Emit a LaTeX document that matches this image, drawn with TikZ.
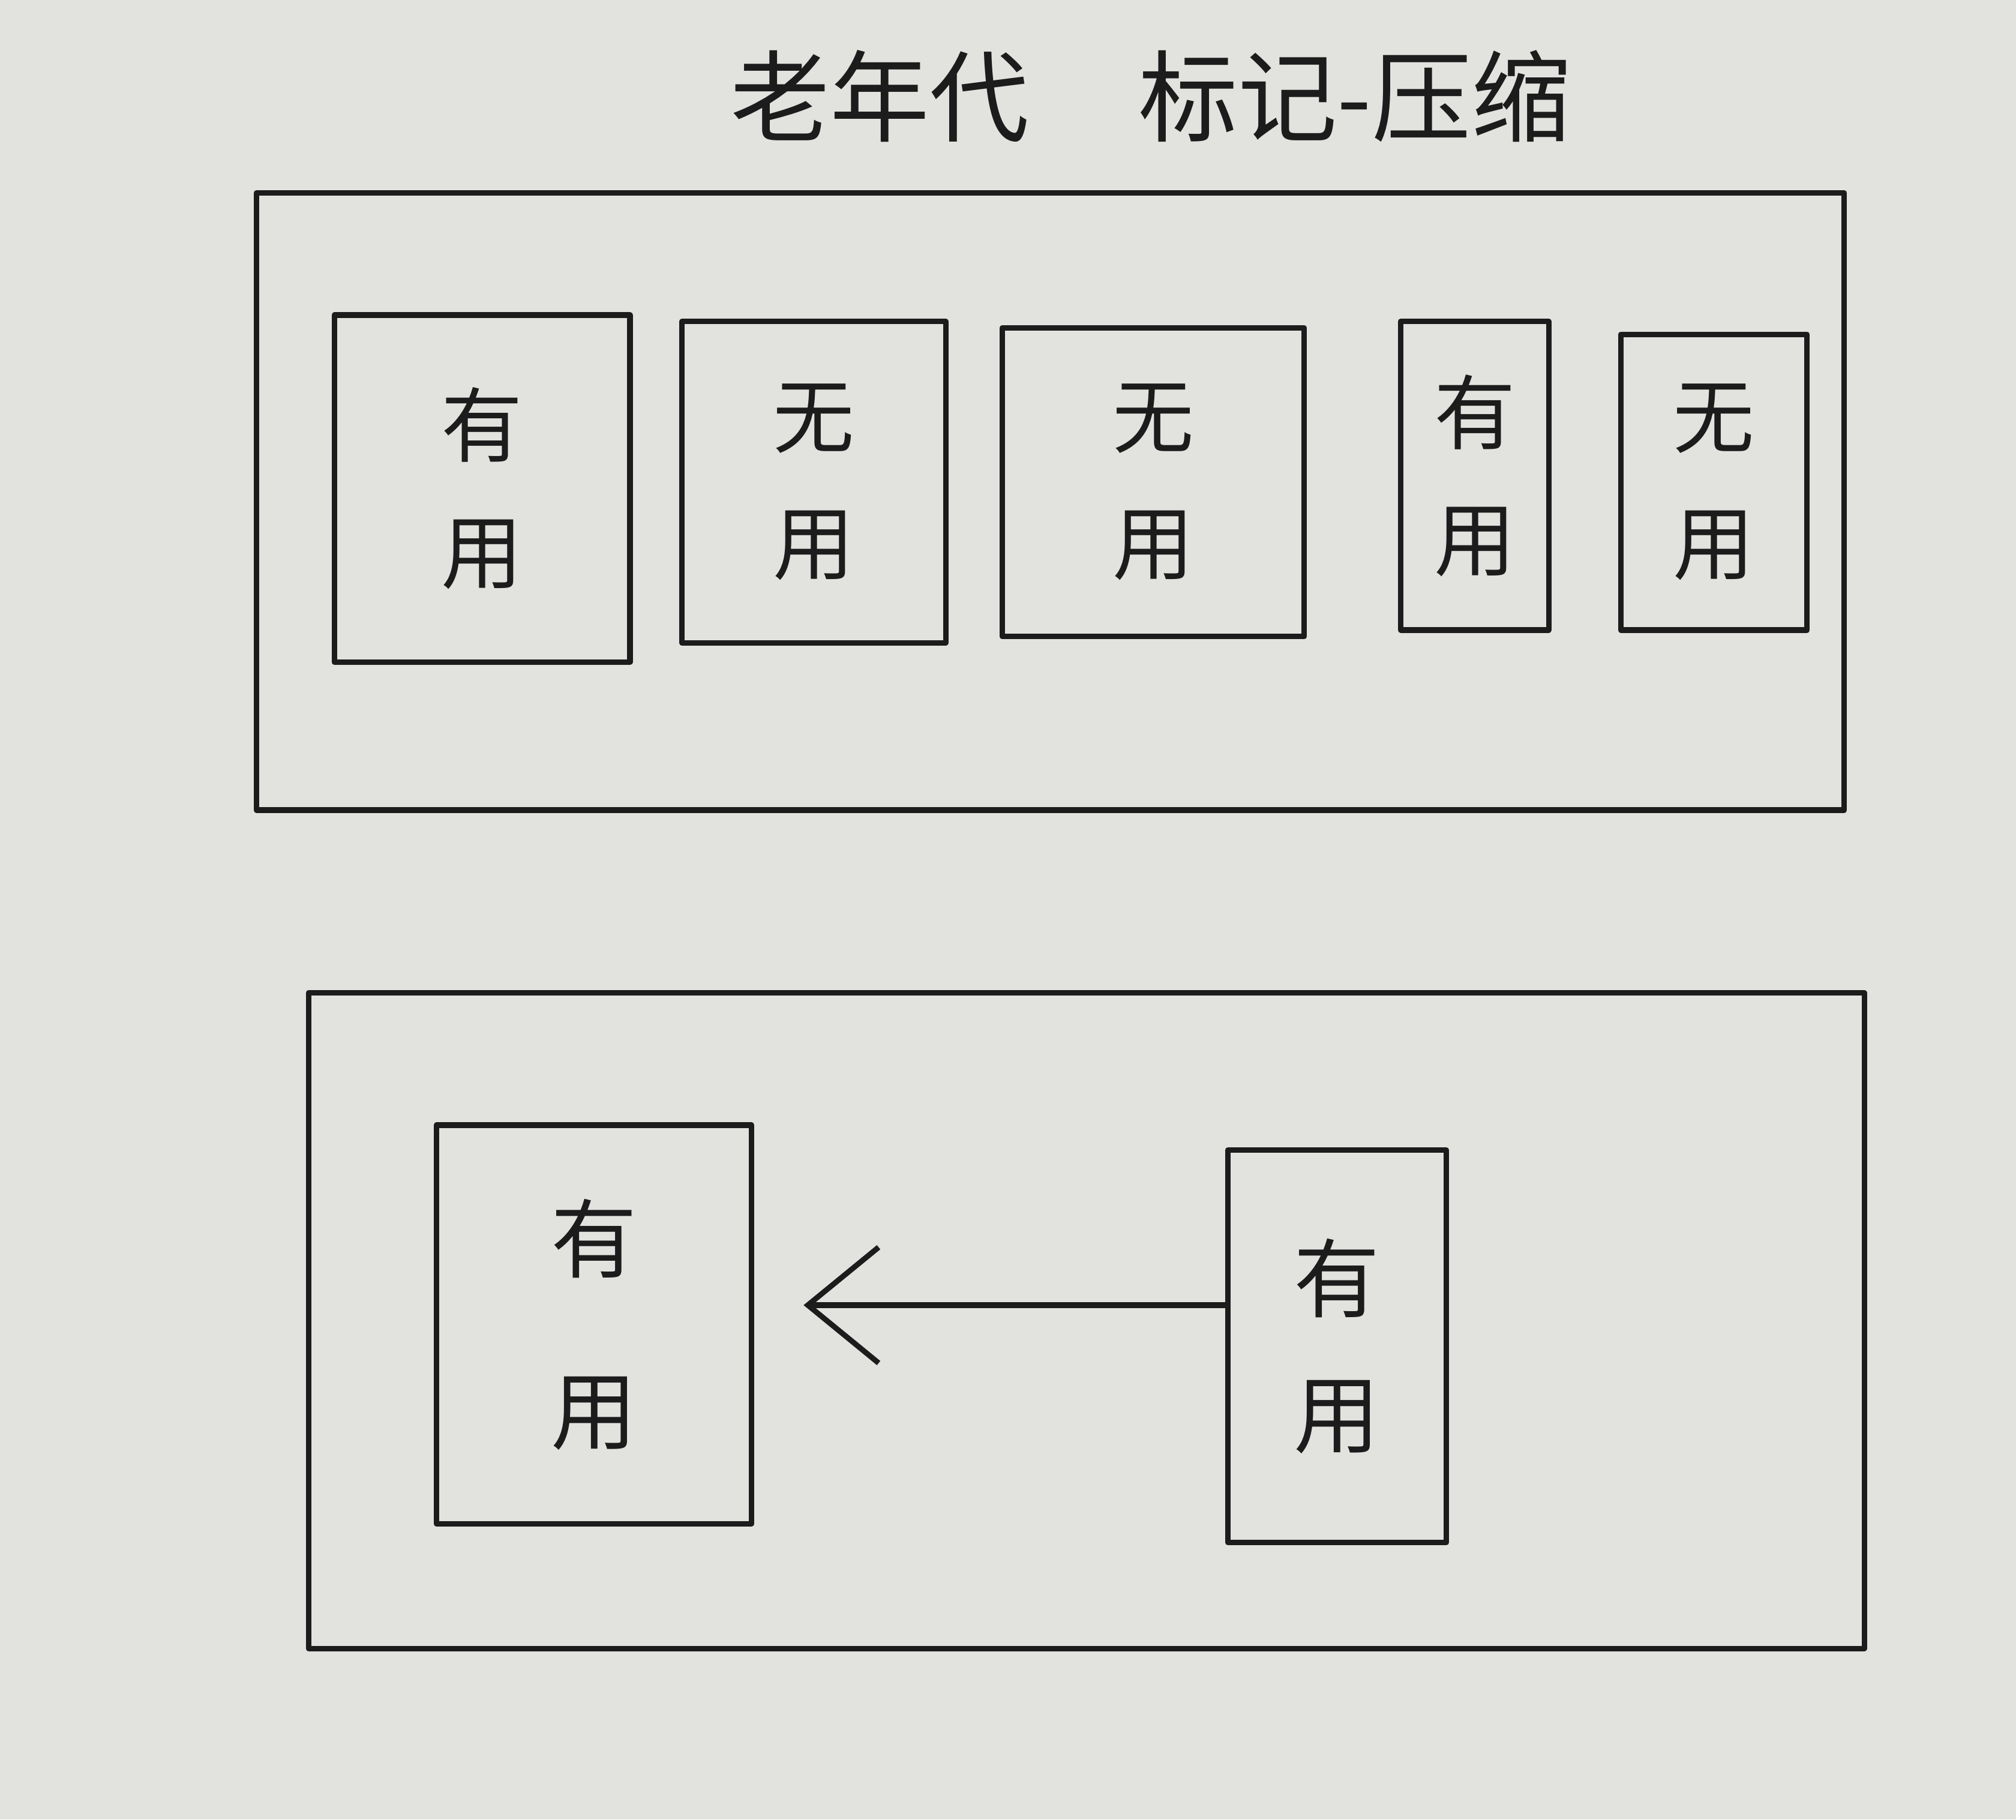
\documentclass[tikz,border=0pt]{standalone}
\usepackage{fontspec}
\newfontfamily\cjk{Noto Sans CJK SC}
\usetikzlibrary{arrows.meta}
\definecolor{paper}{RGB}{226,226,223}
\definecolor{pen}{RGB}{28,28,28}
\tikzset{
  pen/.style={draw=pen, line width=1.2pt, line cap=round, line join=round},
  obj/.style={pen, rectangle, inner sep=0pt, align=center, text=pen,
    font=\cjk\fontsize{18}{28}\selectfont},
}
\begin{document}
\begin{tikzpicture}[x=0.01cm,y=-0.01cm]
\fill[paper] (0,0) rectangle (1568,1415);
\useasboundingbox (0,0) rectangle (1568,1415);
% title
\node[text=pen, font=\cjk\fontsize{22}{26}\selectfont] (title) at (895,75) {老年代\hspace{0.85cm}标记-压缩};
% top generation box
\node[pen, rectangle, minimum width=1235*0.01cm, minimum height=480*0.01cm] (oldtop) at (817,390) {};
\node[obj, minimum width=230*0.01cm, minimum height=270*0.01cm] (b1) at (375,380) {有\\用};
\node[obj, minimum width=205*0.01cm, minimum height=250*0.01cm] (b2) at (633,375) {无\\用};
\node[obj, minimum width=235*0.01cm, minimum height=240*0.01cm] (b3) at (897,375) {无\\用};
\node[obj, minimum width=115*0.01cm, minimum height=240*0.01cm] (b4) at (1147,370) {有\\用};
\node[obj, minimum width=145*0.01cm, minimum height=230*0.01cm] (b5) at (1333,375) {无\\用};
% bottom box after compaction
\node[pen, rectangle, minimum width=1210*0.01cm, minimum height=510*0.01cm] (oldbot) at (845,1027) {};
\node[obj, minimum width=245*0.01cm, minimum height=310*0.01cm,
  font=\cjk\fontsize{19}{38}\selectfont] (c1) at (462,1030) {有\\用};
\node[obj, minimum width=170*0.01cm, minimum height=305*0.01cm,
  font=\cjk\fontsize{19}{30}\selectfont] (c2) at (1040,1047) {有\\用};
\coordinate (atip) at (625,1015);
\draw[pen, -{Straight Barb[length=0.55cm,width=0.9cm,line width=1.2pt]}] (c2.west |- atip) -- (atip);
\end{tikzpicture}
\end{document}
